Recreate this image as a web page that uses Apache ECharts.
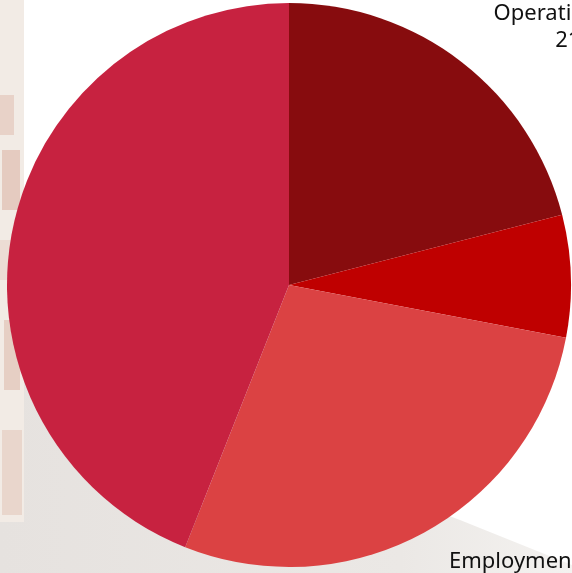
<!DOCTYPE html>
<html>
<head>
<meta charset="utf-8">
<script src="https://cdn.jsdelivr.net/npm/echarts@6/dist/echarts.min.js"></script>
<style>
html,body{margin:0;padding:0;background:#fff;}
#pie{width:572px;height:573px;}
</style>
</head>
<body>
<div id="pie"></div>
<script>
// slices, clockwise from 12 o'clock
var names = ['Operating Costs', 'Administration', 'Employment Costs', 'Programs'];
var values = [21, 7, 28, 44];
var colors = ['#870c0e', '#bf0000', '#db4243', '#c72240'];
var labelShown = [true, false, true, false];
// where the (cropped) labels sit: [x, y, align]
var labelSpots = [[577, 0, 'center'], null, [449, 548, 'left'], null];

var pieData = [];
for (var i = 0; i < names.length; i++) {
	pieData.push({
		name: names[i],
		value: values[i],
		itemStyle: {color: colors[i]},
		label: {show: labelShown[i]}
	});
}

var myChart = echarts.init(document.getElementById('pie'));
var option = {
	animation: false,
	graphic: [
		{type: 'polygon', z: 0, shape: {points: [[0,320],[40,340],[110,460],[300,560],[420,505],[460,520],[572,565],[572,573],[0,573]]},
			style: {fill: new echarts.graphic.LinearGradient(0, 0, 1, 0, [
				{offset: 0, color: '#e6e2df'}, {offset: 0.7, color: '#ebe8e5'}, {offset: 1, color: '#f4f2f0'}])}},
		{type: 'rect', z: 0, shape: {x: 0, y: 0, width: 24, height: 522}, style: {fill: '#f2ebe5'}},
		{type: 'rect', z: 0, shape: {x: 0, y: 95, width: 14, height: 40}, style: {fill: '#e8d2c8'}},
		{type: 'rect', z: 0, shape: {x: 2, y: 150, width: 18, height: 60}, style: {fill: '#e5cbc0'}},
		{type: 'rect', z: 0, shape: {x: 0, y: 240, width: 12, height: 40}, style: {fill: '#ecdcd4'}},
		{type: 'rect', z: 0, shape: {x: 4, y: 320, width: 16, height: 70}, style: {fill: '#e6cfc4'}},
		{type: 'rect', z: 0, shape: {x: 2, y: 430, width: 20, height: 85}, style: {fill: '#e9d6cc'}}
	],
	series: [{
		type: 'pie',
		z: 2,
		center: [289, 285],
		radius: 282,
		startAngle: 90,
		clockwise: true,
		avoidLabelOverlap: false,
		itemStyle: {borderWidth: 0},
		label: {
			position: 'outside',
			color: '#111',
			fontFamily: 'Noto Sans',
			fontSize: 22,
			lineHeight: 27,
			formatter: function (p) {
				return p.name + '\n' + Math.round(p.percent) + '%';
			}
		},
		labelLine: {show: false},
		labelLayout: function (params) {
			var s = labelSpots[params.dataIndex];
			if (!s) return {};
			return {x: s[0], y: s[1], align: s[2], verticalAlign: 'top'};
		},
		emphasis: {disabled: true},
		data: pieData
	}]
};
myChart.setOption(option);
window.onresize = myChart.resize;
</script>
</body>
</html>
